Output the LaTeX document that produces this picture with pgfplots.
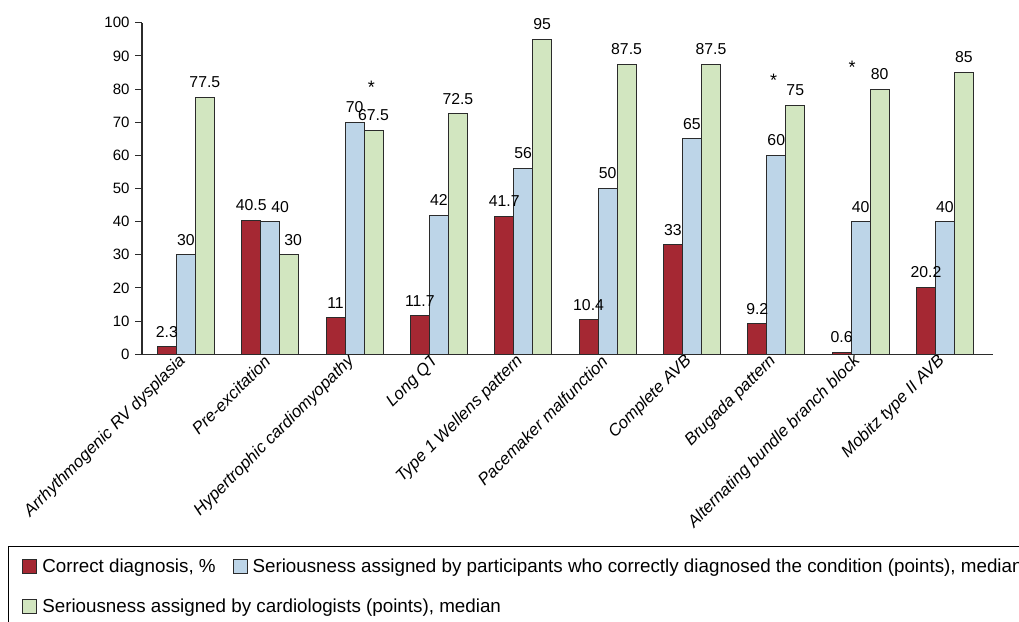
\documentclass[border=0pt]{standalone}
\usepackage{pgfplots}
\pgfplotsset{compat=1.18}
\usepackage{fontspec}
\setmainfont{Liberation Sans}
\definecolor{cred}{HTML}{A52833}
\definecolor{cblue}{HTML}{BDD5E8}
\definecolor{cgreen}{HTML}{D2E6C0}
\definecolor{cedge}{HTML}{2B2B2B}
\begin{document}
\begin{tikzpicture}[x=1pt,y=1pt]
\path[use as bounding box] (0,0) rectangle (1019,621);
\begin{axis}[
  at={(142pt,266.7pt)}, anchor=south west,
  scale only axis, width=851pt, height=331.6pt,
  xmin=-0.52, xmax=9.57, ymin=0, ymax=100,
  axis x line*=bottom, axis y line*=left,
  x axis line style={line width=1.6pt, draw=cedge},
  y axis line style={line width=1.2pt, draw=cedge},
  ybar=0pt, bar width=19pt,
  xtick={0,...,9},
  xticklabels={Arrhythmogenic RV dysplasia, Pre-excitation, Hypertrophic cardiomyopathy, Long QT, Type 1 Wellens pattern, Pacemaker malfunction, Complete AVB, Brugada pattern, Alternating bundle branch block, Mobitz type II AVB},
  x tick style={draw=none},
  xticklabel style={rotate=45, anchor=east, font=\itshape\fontsize{16.8}{20}\selectfont, inner sep=2pt, xshift=2pt, yshift=4pt},
  ytick={0,10,...,100},
  y tick style={line width=1pt, draw=cedge},
  tick align=outside, major tick length=7pt,
  yticklabel style={font=\fontsize{15}{18}\selectfont, xshift=-2pt},
  /pgf/number format/assume math mode=true,
  every axis plot/.append style={draw=cedge, line width=0.9pt},
  nodes near coords,
  visualization depends on={\thisrow{dx} \as \dx},
  nodes near coords style={font=\fontsize{15.8}{18}\selectfont, anchor=south, inner sep=0pt, yshift=9pt, xshift=\dx pt, /pgf/number format/assume math mode=true},
  legend columns=2,
  legend cell align=left,
  legend style={at={(-0.1575,-0.578)}, anchor=north west, draw=black, line width=1pt,
    font=\fontsize{18.8}{22}\selectfont, inner xsep=14pt, inner ysep=10pt, row sep=21pt,
    /tikz/every odd column/.append style={column sep=3pt},
    /tikz/every even column/.append style={column sep=15pt}},
  legend image code/.code={\draw[#1, line width=0.8pt] (0pt,-7pt) rectangle (14pt,7pt);},
]
\addplot[fill=cred] table[x=x,y=y] {
x y dx
0 2.3 0
1 40.5 0
2 11 0
3 11.7 0
4 41.7 0
5 10.4 0
6 33 0
7 9.2 0
8 0.6 0
9 20.2 0
};
\addlegendentry{Correct diagnosis, \%}
\addplot[fill=cblue] table[x=x,y=y] {
x y dx
0 30 0
1 40 10
2 70 0
3 42 0
4 56 0
5 50 0
6 65 0
7 60 0
8 40 0
9 40 0
};
\addlegendentry{Seriousness assigned by participants who correctly diagnosed the condition (points), median}
\addplot[fill=cgreen] table[x=x,y=y] {
x y dx
0 77.5 0
1 30 4
2 67.5 0
3 72.5 0
4 95 0
5 87.5 0
6 87.5 0
7 75 0
8 80 0
9 85 0
};
\addlegendentry{\rlap{Seriousness assigned by cardiologists (points), median}}
\node[font=\fontsize{18}{18}\selectfont] at (axis cs:2.2,80.5) {*};
\node[font=\fontsize{18}{18}\selectfont] at (axis cs:6.97,82.5) {*};
\node[font=\fontsize{18}{18}\selectfont] at (axis cs:7.9,86.5) {*};
\end{axis}
\end{tikzpicture}
\end{document}
